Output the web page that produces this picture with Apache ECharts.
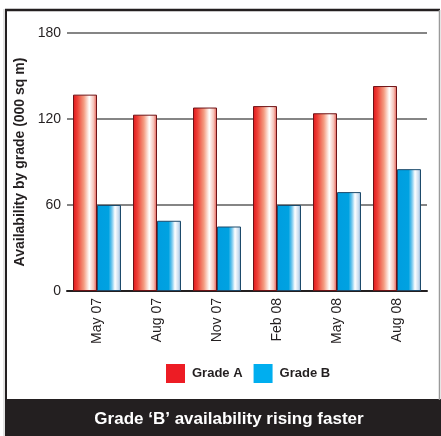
<!DOCTYPE html>
<html>
<head>
<meta charset="utf-8">
<script src="https://cdn.jsdelivr.net/npm/echarts@6/dist/echarts.min.js"></script>
<style>
  html, body { margin: 0; padding: 0; background: #fff; }
  #chart { width: 441px; height: 436px; }
</style>
</head>
<body>
<div id="chart"></div>
<script>
// 数据
const categories = ['May 07', 'Aug 07', 'Nov 07', 'Feb 08', 'May 08', 'Aug 08']
const gradeA = [137, 123, 128, 129, 124, 143]
const gradeB = [60, 49, 45, 60, 69, 85]
const yTicks = [0, 60, 120, 180]

const textColor = '#231f20'
const font = 'Liberation Sans, Arial, sans-serif'

const chart = echarts.init(document.getElementById('chart'))

// 柱子渐变色
const redFill = new echarts.graphic.LinearGradient(0, 0, 1, 0, [
  { offset: 0, color: '#e1141d' },
  { offset: 0.18, color: '#ec4036' },
  { offset: 0.45, color: '#f49a80' },
  { offset: 0.68, color: '#ffffff' },
  { offset: 0.86, color: '#f5c2b8' },
  { offset: 1, color: '#e5544b' },
])
const blueFill = new echarts.graphic.LinearGradient(0, 0, 1, 0, [
  { offset: 0, color: '#009ee0' },
  { offset: 0.48, color: '#00a2e1' },
  { offset: 0.62, color: '#74c8ee' },
  { offset: 0.75, color: '#ffffff' },
  { offset: 0.9, color: '#c8dbee' },
  { offset: 1, color: '#7ea8d0' },
])

const option = {
  animation: false,
  textStyle: { fontFamily: font },
  title: {
    text: 'Grade ‘B’ availability rising faster',
    left: 224,
    textAlign: 'center',
    top: 406,
    textStyle: { color: '#ffffff', fontSize: 17, fontWeight: 'bold', fontFamily: font },
  },
  graphic: [
    // 外框
    { type: 'rect', z: -1, shape: { x: 6, y: 399, width: 435, height: 37 }, style: { fill: '#231f20' } },
    { type: 'line', shape: { x1: 5, y1: 10, x2: 440, y2: 10 }, style: { stroke: '#231f20', lineWidth: 2.5 } },
    { type: 'line', shape: { x1: 6, y1: 9, x2: 6, y2: 436 }, style: { stroke: '#231f20', lineWidth: 2 } },
    { type: 'line', shape: { x1: 4, y1: 9, x2: 4, y2: 436 }, style: { stroke: '#c8c8c8', lineWidth: 1 } },
    { type: 'line', shape: { x1: 439.5, y1: 10, x2: 439.5, y2: 400 }, style: { stroke: '#9a9a9a', lineWidth: 1.5 } },
  ],
  legend: {
    left: 161,
    top: 359,
    itemWidth: 19,
    itemHeight: 19,
    itemGap: 11,
    textStyle: { color: textColor, fontSize: 13, fontWeight: 'bold', fontFamily: font, padding: [0, 0, 0, 2] },
    data: [
      { name: 'Grade A', icon: 'rect', itemStyle: { color: '#ed1c24', borderWidth: 0 } },
      { name: 'Grade B', icon: 'rect', itemStyle: { color: '#00aeef', borderWidth: 0 } },
    ],
  },
  grid: { left: 67, right: 14, top: 33, bottom: 145 },
  xAxis: {
    type: 'category',
    data: categories,
    axisLine: { lineStyle: { color: textColor, width: 2 } },
    axisTick: { length: 8, lineStyle: { color: '#808080', width: 1.5 } },
    axisLabel: { rotate: 90, margin: 7, color: textColor, fontSize: 14, fontFamily: font },
  },
  yAxis: {
    type: 'value',
    min: yTicks[0],
    max: yTicks[yTicks.length - 1],
    interval: yTicks[1] - yTicks[0],
    name: 'Availability by grade (000 sq m)',
    nameLocation: 'middle',
    nameGap: 34,
    nameTextStyle: { color: textColor, fontSize: 14, fontWeight: 'bold', fontFamily: font },
    axisLine: { show: false },
    axisTick: { show: false },
    axisLabel: { margin: 6, color: textColor, fontSize: 14, fontFamily: font },
    splitLine: { lineStyle: { color: '#858585', width: 2 } },
  },
  series: [
    {
      name: 'Grade A',
      type: 'bar',
      data: gradeA,
      barGap: '0%',
      barCategoryGap: '20%',
      itemStyle: { color: redFill, borderColor: '#6e1316', borderWidth: 1 },
    },
    {
      name: 'Grade B',
      type: 'bar',
      data: gradeB,
      barGap: '0%',
      barCategoryGap: '20%',
      itemStyle: { color: blueFill, borderColor: '#1d4a6b', borderWidth: 1 },
    },
  ],
}

chart.setOption(option)
</script>
</body>
</html>
